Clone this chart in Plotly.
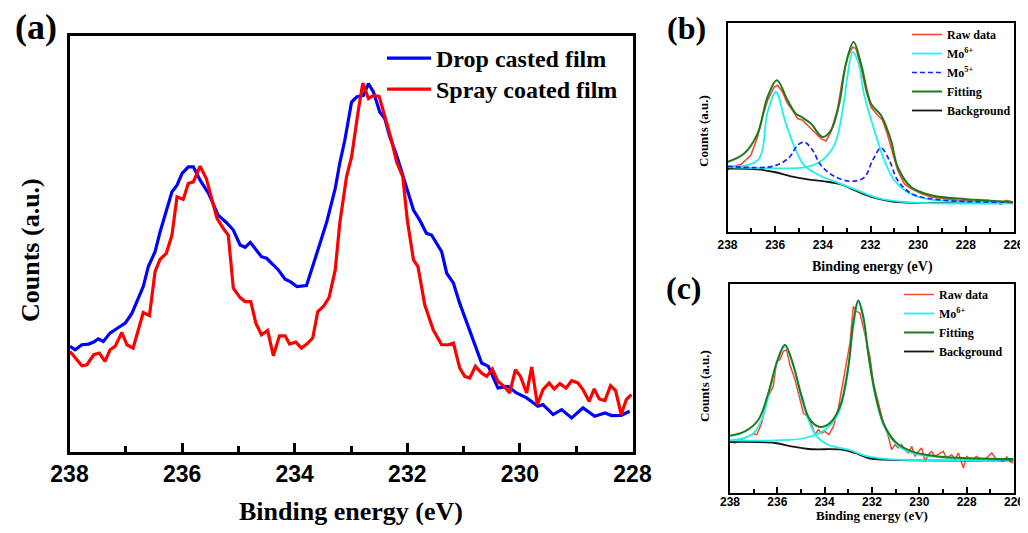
import plotly.graph_objects as go

# ---------------- Panel (a) data ----------------
a_drop_energy = [237.99, 237.90, 237.78, 237.66, 237.57, 237.49, 237.40, 237.28, 237.13, 237.01,
                 236.89, 236.77, 236.69, 236.60, 236.48, 236.39, 236.30, 236.18, 236.09, 236.00,
                 235.89, 235.80, 235.68, 235.53, 235.36, 235.21, 235.09, 234.97, 234.88, 234.79,
                 234.59, 234.50, 234.29, 234.17, 234.08, 233.96, 233.79, 233.67, 233.55, 233.43,
                 233.28, 233.20, 233.11, 232.99, 232.90, 232.78, 232.69, 232.60, 232.49, 232.40,
                 232.31, 232.19, 232.07, 231.89, 231.78, 231.66, 231.57, 231.39, 231.30, 231.18,
                 231.07, 230.89, 230.68, 230.56, 230.39, 230.21, 230.06, 229.88, 229.68, 229.59,
                 229.41, 229.26, 229.08, 228.88, 228.67, 228.49, 228.37, 228.20, 228.05]
a_drop_counts = [105.3, 102, 107, 107.7, 109.7, 113, 110.3, 118.7, 124.3, 128.7,
                 138.7, 155.3, 165.3, 185.3, 200.3, 220.3, 237, 260.3, 267, 278.7,
                 285.3, 285.3, 272, 258.7, 237, 229.3, 222, 207, 204.7, 209.7,
                 195.3, 193.7, 182, 172.7, 170.3, 165.3, 166.3, 188.7, 208.7, 230.3,
                 263.7, 289, 312, 350.3, 355.3, 357, 368.7, 360.3, 340.3, 333.7,
                 315.3, 297, 275.3, 242, 232, 218.7, 217, 200.3, 178.7, 168.7,
                 148.7, 122, 88.7, 85.3, 63.7, 65.3, 58.7, 53.7, 45.3, 47,
                 37, 42, 33.7, 43.7, 35.3, 38.7, 36, 36.3, 40.3]

a_spray_energy = [237.99, 237.87, 237.78, 237.69, 237.57, 237.47, 237.37, 237.28, 237.19, 237.07,
                  236.98, 236.87, 236.78, 236.69, 236.58, 236.48, 236.39, 236.28, 236.18, 236.09,
                  235.98, 235.89, 235.80, 235.68, 235.57, 235.47, 235.38, 235.27, 235.18, 235.09,
                  234.97, 234.88, 234.78, 234.69, 234.59, 234.48, 234.38, 234.27, 234.17, 234.09,
                  233.98, 233.88, 233.78, 233.68, 233.59, 233.49, 233.39, 233.28, 233.20, 233.08,
                  232.99, 232.87, 232.79, 232.69, 232.60, 232.50, 232.40, 232.28, 232.19, 232.08,
                  232.00, 231.89, 231.81, 231.69, 231.54, 231.39, 231.27, 231.18, 231.07, 230.98,
                  230.89, 230.79, 230.68, 230.59, 230.49, 230.39, 230.28, 230.18, 230.08, 229.99,
                  229.88, 229.79, 229.69, 229.59, 229.48, 229.39, 229.29, 229.18, 229.08, 228.97,
                  228.88, 228.77, 228.68, 228.59, 228.49, 228.39, 228.30, 228.20, 228.11, 228.02]
a_spray_counts = [100.3, 92, 86, 87, 97, 98.7, 90.3, 102, 105.3, 119.3,
                  107, 103.7, 122, 139.3, 136.3, 180.3, 192.7, 198.7, 217, 255.3,
                  252.7, 268.7, 270.3, 286, 273.7, 253.7, 233.7, 223.7, 217, 163.7,
                  154.3, 150.3, 150.3, 128.7, 117, 121.3, 96, 116, 116, 107.7,
                  109.7, 103.7, 108, 113.7, 140.3, 145.3, 154.3, 182, 228.7, 275.3,
                  295.3, 342, 369.3, 353.7, 357, 356, 335.3, 312, 290.3, 275.3,
                  232, 192, 185.3, 147, 122, 107, 107, 108.7, 83.7, 75.3,
                  73.7, 85.3, 78.7, 75.3, 82.7, 70.3, 65.3, 58.7, 82, 75.3,
                  58.7, 84.7, 47, 62, 68.7, 62.7, 68, 63.7, 71, 68.7,
                  62, 50.3, 62.7, 52.7, 51, 66, 61, 37, 52, 57]

# ---------------- Panel (b) data ----------------
b_raw_energy = [238.00, 237.86, 237.44, 237.02, 236.74, 236.53, 236.32, 236.04, 235.90, 235.69,
                235.48, 235.27, 235.06, 234.85, 234.64, 234.36, 234.08, 233.87, 233.66, 233.38,
                233.17, 232.96, 232.75, 232.61, 232.40, 232.19, 231.98, 231.70, 231.49, 231.28,
                231.07, 230.86, 230.58, 230.30, 229.88, 229.46, 228.90, 228.34, 227.64, 227.08,
                226.80, 226.52, 226.31, 226.03]
b_raw_counts = [62, 65.3, 67.7, 77, 95.3, 115.3, 132, 145.3, 147, 140.3,
                128.7, 122, 113.7, 112, 107, 100.3, 93.7, 91.3, 100.3, 123.7,
                153.7, 175.3, 185.3, 183.7, 165.3, 142, 125.3, 117, 112, 97,
                78.7, 62, 48.7, 43.7, 38.7, 35.3, 33.7, 32, 31, 32,
                30.3, 28, 32, 30.3]

b_mo6a_energy = [238.00, 236.74, 236.32, 235.97, 235.55, 235.13, 234.78, 234.15, 233.31, 232.55,
                 231.63, 230.37, 226.04]
b_mo6a_counts = [66, 72, 120, 140.3, 108.7, 82, 67, 57, 49, 42,
                 34, 30, 29]
b_mo6b_energy = [238.00, 236.04, 234.78, 234.15, 233.52, 233.17, 232.96, 232.75, 232.54, 232.26,
                 231.84, 231.42, 231.00, 230.37, 229.53, 226.04]
b_mo6b_counts = [65.3, 64, 65, 70, 87, 122, 157, 180.3, 172, 137,
                 102, 72, 52, 39, 33, 30]
b_mo5_energy = [238.00, 236.04, 235.41, 235.06, 234.78, 234.43, 234.08, 233.52, 232.82, 232.26,
                231.91, 231.56, 231.21, 230.86, 230.30, 229.32, 226.04]
b_mo5_counts = [66, 66.3, 75, 87, 90.3, 82, 67, 56, 51, 55,
                72, 84.3, 72, 52, 39, 33, 30]
b_fit_energy = [238.00, 237.30, 236.74, 236.32, 235.93, 235.48, 235.13, 234.85, 234.50, 234.01,
                233.66, 233.31, 233.03, 232.71, 232.40, 231.98, 231.56, 231.14, 230.86, 230.30,
                229.46, 228.34, 226.03]
b_fit_counts = [70.3, 78.7, 98.7, 135.3, 152, 132, 118.7, 114.7, 108.7, 95.3,
                102, 128.7, 168.7, 190.3, 168.7, 128.7, 117, 92, 65.3, 45.3,
                37, 33.7, 30.3]
b_bg_energy = [238.00, 236.74, 236.04, 235.34, 234.64, 233.94, 233.24, 232.82, 232.26, 231.70,
               231.14, 230.44, 226.03]
b_bg_counts = [63.7, 63, 60.3, 56, 53, 51, 48, 43.7, 38, 33.7,
               31, 29.7, 29.3]

# ---------------- Panel (c) data ----------------
c_raw_energy = [238.00, 237.79, 237.51, 237.23, 237.01, 236.87, 236.66, 236.45, 236.31, 236.17,
                236.03, 235.89, 235.75, 235.61, 235.47, 235.25, 235.11, 234.90, 234.72, 234.55,
                234.41, 234.27, 234.13, 233.99, 233.82, 233.63, 233.42, 233.28, 233.14, 232.93,
                232.79, 232.65, 232.51, 232.37, 232.23, 232.09, 231.94, 231.80, 231.66, 231.52,
                231.31, 231.17, 231.03, 230.89, 230.75, 230.61, 230.47, 230.32, 230.18, 230.04,
                229.90, 229.76, 229.62, 229.48, 229.34, 229.20, 228.99, 228.85, 228.63, 228.49,
                228.35, 228.14, 228.00, 227.79, 227.58, 227.37, 227.16, 226.94, 226.73, 226.45,
                226.31, 226.17, 226.03]
c_raw_counts = [51.3, 49.7, 53, 56.3, 59, 58, 69.7, 93, 99.7, 106.3,
                131.3, 133, 141.3, 143, 128, 113, 99.7, 79.7, 76.3, 68,
                58, 63, 59.7, 61.3, 58, 66.3, 84.7, 103, 123, 149.7,
                186.3, 181.3, 179.7, 166.3, 151.3, 136.3, 109.7, 96.3, 83, 69.7,
                56.3, 43, 48, 44.7, 48, 43, 39.7, 46.3, 36.3, 41.3,
                44.7, 31.3, 38, 41.3, 36.3, 38, 41.3, 34.7, 38, 33,
                39.7, 24.7, 36.3, 33, 36.3, 33, 34.7, 39.7, 33, 31.3,
                35.7, 31.3, 29.7]
c_mo6a_energy = [238.00, 237.08, 236.66, 236.31, 235.98, 235.68, 235.40, 235.04, 234.69, 234.34,
                 233.85, 233.00, 232.16, 230.89, 226.03]
c_mo6a_counts = [52.3, 58, 73, 103, 133, 146.3, 133, 99.7, 73, 56.3,
                 48, 43, 36.3, 33, 33]
c_mo6b_energy = [238.00, 236.10, 234.83, 233.99, 233.42, 233.07, 232.79, 232.58, 232.37, 232.16,
                 231.87, 231.52, 231.03, 230.32, 229.20, 226.03]
c_mo6b_counts = [52.3, 52.3, 54.7, 63, 79.7, 113, 166.3, 190.3, 174.7, 138,
                 98, 68, 49.7, 39.7, 35.7, 33.7]
c_fit_energy = [238.00, 237.37, 236.80, 236.38, 236.03, 235.68, 235.33, 234.97, 234.62, 234.20,
                233.78, 233.35, 233.00, 232.79, 232.58, 232.37, 232.16, 231.87, 231.52, 231.03,
                230.32, 229.20, 226.03]
c_fit_counts = [57, 61.3, 73, 99.7, 129.7, 148, 128, 96.3, 73, 65.7,
                69.7, 86.3, 126.3, 169.7, 192.3, 176.3, 139.7, 99.7, 69.7, 51.3,
                41.3, 36.3, 33.7]
c_bg_energy = [238.00, 236.10, 235.40, 234.69, 233.28, 232.72, 232.16, 231.45, 226.03]
c_bg_counts = [50.7, 49.7, 46.3, 43.7, 43, 39.7, 34.7, 33, 32.3]

# ---------------- Text ----------------
x_title = "Binding energy (eV)"
y_title = "Counts (a.u.)"
panel_labels = ["(a)", "(b)", "(c)"]
a_series_names = ["Drop casted film", "Spray coated film"]
fit_names = ["Raw data", "Mo<sup>6+</sup>", "Mo<sup>5+</sup>", "Fitting", "Background"]

SERIF = "Liberation Serif"
SANS = "Liberation Sans"

C_RAW = "#F04A2E"
C_MO6 = "#1FF0F0"
C_MO5 = "#2020F0"
C_FIT = "#1E7A1E"
C_BG = "#151515"

fig = go.Figure()

# Panel a
fig.add_trace(go.Scatter(x=a_drop_energy, y=a_drop_counts, mode="lines", name=a_series_names[0],
                         line=dict(color="#0000FF", width=3.2), xaxis="x", yaxis="y", legend="legend"))
fig.add_trace(go.Scatter(x=a_spray_energy, y=a_spray_counts, mode="lines", name=a_series_names[1],
                         line=dict(color="#FF0000", width=3.2), xaxis="x", yaxis="y", legend="legend4"))

# Panel b
fig.add_trace(go.Scatter(x=b_raw_energy, y=b_raw_counts, mode="lines", name=fit_names[0], legendrank=1,
                         line=dict(color=C_RAW, width=1.6), xaxis="x2", yaxis="y2", legend="legend2"))
fig.add_trace(go.Scatter(x=b_bg_energy, y=b_bg_counts, mode="lines", name=fit_names[4], legendrank=5,
                         line=dict(color=C_BG, width=1.8, shape="spline"), xaxis="x2", yaxis="y2", legend="legend2"))
fig.add_trace(go.Scatter(x=b_mo6a_energy, y=b_mo6a_counts, mode="lines", name=fit_names[1], legendrank=2,
                         line=dict(color=C_MO6, width=1.8, shape="spline"), xaxis="x2", yaxis="y2", legend="legend2"))
fig.add_trace(go.Scatter(x=b_mo6b_energy, y=b_mo6b_counts, mode="lines", name=fit_names[1], showlegend=False,
                         line=dict(color=C_MO6, width=1.8, shape="spline"), xaxis="x2", yaxis="y2", legend="legend2"))
fig.add_trace(go.Scatter(x=b_mo5_energy, y=b_mo5_counts, mode="lines", name=fit_names[2], legendrank=3,
                         line=dict(color=C_MO5, width=1.7, dash="5px,3px", shape="spline"), xaxis="x2", yaxis="y2", legend="legend2"))
fig.add_trace(go.Scatter(x=b_fit_energy, y=b_fit_counts, mode="lines", name=fit_names[3], legendrank=4,
                         line=dict(color=C_FIT, width=2, shape="spline"), xaxis="x2", yaxis="y2", legend="legend2"))

# Panel c
fig.add_trace(go.Scatter(x=c_raw_energy, y=c_raw_counts, mode="lines", name=fit_names[0], legendrank=1,
                         line=dict(color=C_RAW, width=1.5), xaxis="x3", yaxis="y3", legend="legend3"))
fig.add_trace(go.Scatter(x=c_bg_energy, y=c_bg_counts, mode="lines", name=fit_names[4], legendrank=4,
                         line=dict(color=C_BG, width=1.8, shape="spline"), xaxis="x3", yaxis="y3", legend="legend3"))
fig.add_trace(go.Scatter(x=c_mo6a_energy, y=c_mo6a_counts, mode="lines", name=fit_names[1], legendrank=2,
                         line=dict(color=C_MO6, width=1.8, shape="spline"), xaxis="x3", yaxis="y3", legend="legend3"))
fig.add_trace(go.Scatter(x=c_mo6b_energy, y=c_mo6b_counts, mode="lines", name=fit_names[1], showlegend=False,
                         line=dict(color=C_MO6, width=1.8, shape="spline"), xaxis="x3", yaxis="y3", legend="legend3"))
fig.add_trace(go.Scatter(x=c_fit_energy, y=c_fit_counts, mode="lines", name=fit_names[3], legendrank=3,
                         line=dict(color=C_FIT, width=2, shape="spline"), xaxis="x3", yaxis="y3", legend="legend3"))

# the page has an 8px body margin: figure is offset by 8px; keep the page height within the window
OFF = 8
W, H = 1028 - OFF, 533 - 2 * OFF


def px_x(p):
    return (p - OFF) / W


def px_y(p):
    return 1 - (p - OFF) / H


def xaxis_cfg(domain, rng, lw, tl, mtl, fs, standoff):
    return dict(domain=domain, range=rng, dtick=2, tick0=238, ticks="inside", ticklen=tl, tickwidth=lw,
                tickcolor="black", showline=True, linecolor="black", linewidth=lw, mirror=True,
                showgrid=False, zeroline=False, tickfont=dict(family=SANS, size=fs, color="black", weight="bold"),
                ticklabelstandoff=standoff, automargin=False, ticklabeloverflow="allow",
                minor=dict(dtick=1, tick0=238, ticks="inside", ticklen=mtl, tickwidth=lw, tickcolor="black"))


def yaxis_cfg(domain, rng, lw, anchor):
    return dict(domain=domain, range=rng, showticklabels=False, ticks="", showline=True, linecolor="black",
                linewidth=lw, mirror=True, showgrid=False, zeroline=False, anchor=anchor, automargin=False)


legend_a_font = dict(family=SERIF, size=24, color="black", weight="bold")
legend_bc_font = dict(family=SERIF, size=12, color="black", weight="bold")

fig.update_layout(
    width=W, height=H, margin=dict(l=0, r=0, t=0, b=0, pad=0, autoexpand=False),
    paper_bgcolor="white", plot_bgcolor="white",
    xaxis=dict(**xaxis_cfg([px_x(69.5), px_x(632.5)], [238, 228], 3, 9, 6, 23, 0), anchor="y"),
    yaxis=yaxis_cfg([px_y(451.5), px_y(35.5)], [0, 417], 3, "x"),
    xaxis2=dict(**xaxis_cfg([px_x(727.5), px_x(1013.5)], [238, 226], 2, 6, 4, 12, 0), anchor="y2"),
    yaxis2=yaxis_cfg([px_y(232.3), px_y(22.7)], [0, 209.6], 2, "x2"),
    xaxis3=dict(**xaxis_cfg([px_x(730), px_x(1014)], [238, 226], 2, 6, 4, 12, -3), anchor="y3"),
    yaxis3=yaxis_cfg([px_y(492.7), px_y(284)], [0, 208.7], 2, "x3"),
    legend=dict(x=px_x(382), y=px_y(36), xanchor="left", yanchor="top", bgcolor="rgba(0,0,0,0)",
                font=legend_a_font, itemwidth=44),
    legend4=dict(x=px_x(382), y=px_y(67), xanchor="left", yanchor="top", bgcolor="rgba(0,0,0,0)",
                 font=legend_a_font, itemwidth=44),
    legend2=dict(x=px_x(907), y=px_y(20), xanchor="left", yanchor="top", bgcolor="rgba(0,0,0,0)",
                 font=legend_bc_font, itemwidth=30),
    legend3=dict(x=px_x(899), y=px_y(280), xanchor="left", yanchor="top", bgcolor="rgba(0,0,0,0)",
                 font=legend_bc_font, itemwidth=30),
    showlegend=True,
)

annotations = [
    dict(text=panel_labels[0], x=px_x(36), y=px_y(27), font=dict(family=SERIF, size=36, weight="bold")),
    dict(text=panel_labels[1], x=px_x(686), y=px_y(28), font=dict(family=SERIF, size=32, weight="bold")),
    dict(text=panel_labels[2], x=px_x(684), y=px_y(288), font=dict(family=SERIF, size=32, weight="bold")),
    dict(text=x_title, x=px_x(351), y=px_y(511), font=dict(family=SERIF, size=26, weight="bold")),
    dict(text=y_title, x=px_x(30), y=px_y(250), textangle=-90, font=dict(family=SERIF, size=26, weight="bold")),
    dict(text=x_title, x=px_x(872), y=px_y(267), font=dict(family=SERIF, size=14, weight="bold")),
    dict(text=y_title, x=px_x(704), y=px_y(131), textangle=-90, font=dict(family=SERIF, size=13, weight="bold")),
    dict(text=x_title, x=px_x(872), y=px_y(516), font=dict(family=SERIF, size=13, weight="bold")),
    dict(text=y_title, x=px_x(704), y=px_y(386), textangle=-90, font=dict(family=SERIF, size=13, weight="bold")),
]
for a in annotations:
    a.update(xref="paper", yref="paper", showarrow=False, xanchor="center", yanchor="middle")
    a["font"]["color"] = "black"
fig.update_layout(annotations=annotations)

fig.write_html("out.html")
